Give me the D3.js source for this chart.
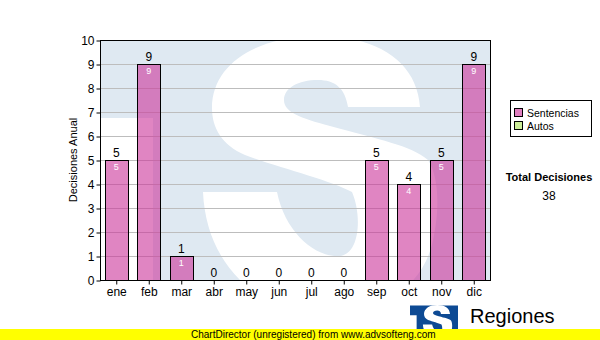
<!DOCTYPE html>
<html><head><meta charset="utf-8">
<script src="https://cdn.jsdelivr.net/npm/d3@7"></script>
<style>body{margin:0;background:#fff}svg{display:block}</style>
</head><body>
<script>
const categories = ["ene","feb","mar","abr","may","jun","jul","ago","sep","oct","nov","dic"];
const sentencias = [5,9,1,0,0,0,0,0,5,4,5,9];
const autos = [0,0,0,0,0,0,0,0,0,0,0,0];
const yTicks = [0,1,2,3,4,5,6,7,8,9,10];
const seriesNames = ["Sentencias","Autos"];
const seriesColors = ["rgba(204,51,153,0.6)","#ccee99"];
const yTitle = "Decisiones Anual";
const totalLabel = "Total Decisiones";
const footer = "ChartDirector (unregistered) from www.advsofteng.com";
const brand = "Regiones";

const W = 600, H = 340;
const L = 100, R = 490, T = 40, B = 280;
const font = "'Liberation Sans', Arial, sans-serif";
const svg = d3.select("body").append("svg").attr("width", W).attr("height", H);

const x = d3.scaleBand().domain(categories).range([L, R]).paddingInner(0.3).paddingOuter(0.15);
const y = d3.scaleLinear().domain([0, 10]).range([B, T]);

const sPath = "M420,107 L348,107 C345,88 335,80 318,80 C298,80 284,88 284,100 C284,112 300,118 330,126 " +
 "C380,140 410,145 428,160 C438,175 440,205 434,235 C425,290 380,312 320,312 C255,312 206,262 203,192 " +
 "L277,192 C285,232 315,258 340,256 C360,254 362,215 352,192 C330,180 280,168 245,155 " +
 "C222,145 212,128 212,108 C212,62 260,36 318,36 C378,36 417,62 420,107 Z";

function logo(g, bg, fg) {
  g.append("rect").attr("x",L).attr("y",T).attr("width",R-L).attr("height",B-T).attr("fill",bg);
  g.append("rect").attr("x",L-1).attr("y",118).attr("width",54).attr("height",B-118+40).attr("fill",fg);
  g.append("path").attr("fill",fg).attr("d",sPath);
}

// watermark
const defs = svg.append("defs");
defs.append("clipPath").attr("id","pc").append("rect").attr("x",L+1).attr("y",T).attr("width",R-L).attr("height",B-T);
defs.append("clipPath").attr("id","lc").append("rect").attr("x",L).attr("y",T).attr("width",R-L-8).attr("height",B-T);
logo(svg.append("g").attr("clip-path","url(#pc)"), "#dfe9f2", "#fff");

// grid
svg.append("g").selectAll("line").data(yTicks.slice(1,-1)).join("line")
  .attr("x1",L).attr("x2",R).attr("y1",d=>y(d)).attr("y2",d=>y(d))
  .attr("stroke","#bdbdbd").attr("stroke-width",1).attr("shape-rendering","crispEdges");

// bars
svg.append("g").selectAll("rect").data(sentencias.map((v,i)=>({c:categories[i],v}))).join("rect")
  .filter(d=>d.v>0)
  .attr("x",d=>Math.round(x(d.c))+0.5).attr("y",d=>y(d.v)+0.5)
  .attr("width",Math.round(x.bandwidth())).attr("height",d=>y(0)-y(d.v))
  .attr("fill",seriesColors[0]).attr("stroke","#000").attr("stroke-width",1);

// value labels
const lab = svg.append("g").attr("font-family",font);
lab.selectAll("text.top").data(sentencias.map((v,i)=>({c:categories[i],v}))).join("text")
  .attr("x",d=>x(d.c)+x.bandwidth()/2).attr("y",d=>y(d.v)-3)
  .attr("text-anchor","middle").attr("font-size",12).attr("fill","#000").text(d=>d.v);
lab.selectAll("text.in").data(sentencias.map((v,i)=>({c:categories[i],v})).filter(d=>d.v>0)).join("text")
  .attr("x",d=>x(d.c)+x.bandwidth()/2).attr("y",d=>y(d.v)+10)
  .attr("text-anchor","middle").attr("font-size",9).attr("fill","#fff").text(d=>d.v);

// frame
svg.append("rect").attr("x",L+0.5).attr("y",T+0.5).attr("width",R-L).attr("height",B-T)
  .attr("fill","none").attr("stroke","#000");

// axes
const ya = svg.append("g").attr("transform",`translate(${L+0.5},0.5)`)
  .call(d3.axisLeft(y).tickValues(yTicks).tickSize(4).tickPadding(2).tickSizeOuter(0));
ya.select(".domain").remove();
ya.selectAll("text").attr("font-family",font).attr("font-size",12).attr("fill","#000");
const xa = svg.append("g").attr("transform",`translate(0.5,${B+0.5})`)
  .call(d3.axisBottom(x).tickSize(4).tickPadding(3).tickSizeOuter(0));
xa.select(".domain").remove();
xa.selectAll("text").attr("font-family",font).attr("font-size",12).attr("fill","#000");

svg.append("text").attr("transform",`translate(77,${(T+B)/2}) rotate(-90)`)
  .attr("text-anchor","middle").attr("font-family",font).attr("font-size",11).text(yTitle);

// legend
const lg = svg.append("g").attr("font-family",font).attr("font-size",10.5);
lg.append("rect").attr("x",510.5).attr("y",100.5).attr("width",81).attr("height",36).attr("fill","#fff").attr("stroke","#000");
seriesNames.forEach((n,i)=>{
  lg.append("rect").attr("x",514.5).attr("y",108.5+i*13).attr("width",8).attr("height",8)
    .attr("fill",i===0?"#e07fc0":seriesColors[1]).attr("stroke","#000");
  lg.append("text").attr("x",527).attr("y",117+i*13).text(n);
});

svg.append("text").attr("x",549).attr("y",181).attr("text-anchor","middle")
  .attr("font-family",font).attr("font-size",11).attr("font-weight","bold").text(totalLabel);
svg.append("text").attr("x",549).attr("y",200).attr("text-anchor","middle")
  .attr("font-family",font).attr("font-size",12).text(d3.sum(sentencias)+d3.sum(autos));

// brand logo (scaled copy of watermark shape)
defs.append("clipPath").attr("id","bc").append("rect").attr("x",409).attr("y",305).attr("width",49).attr("height",25);
const bl = svg.append("g").attr("clip-path","url(#bc)").append("g")
  .attr("transform","translate(397.5,300.5) scale(0.125)");
logo(bl, "#0d4a94", "#fff");
svg.append("text").attr("x",470).attr("y",323).attr("font-family",font).attr("font-size",20).attr("fill","#000").text(brand);

// footer
svg.append("rect").attr("x",0).attr("y",329).attr("width",W).attr("height",11).attr("fill","#ffff00");
svg.append("text").attr("x",191).attr("y",338).attr("font-family",font).attr("font-size",10).attr("fill","#000").text(footer);
</script>
</body></html>
